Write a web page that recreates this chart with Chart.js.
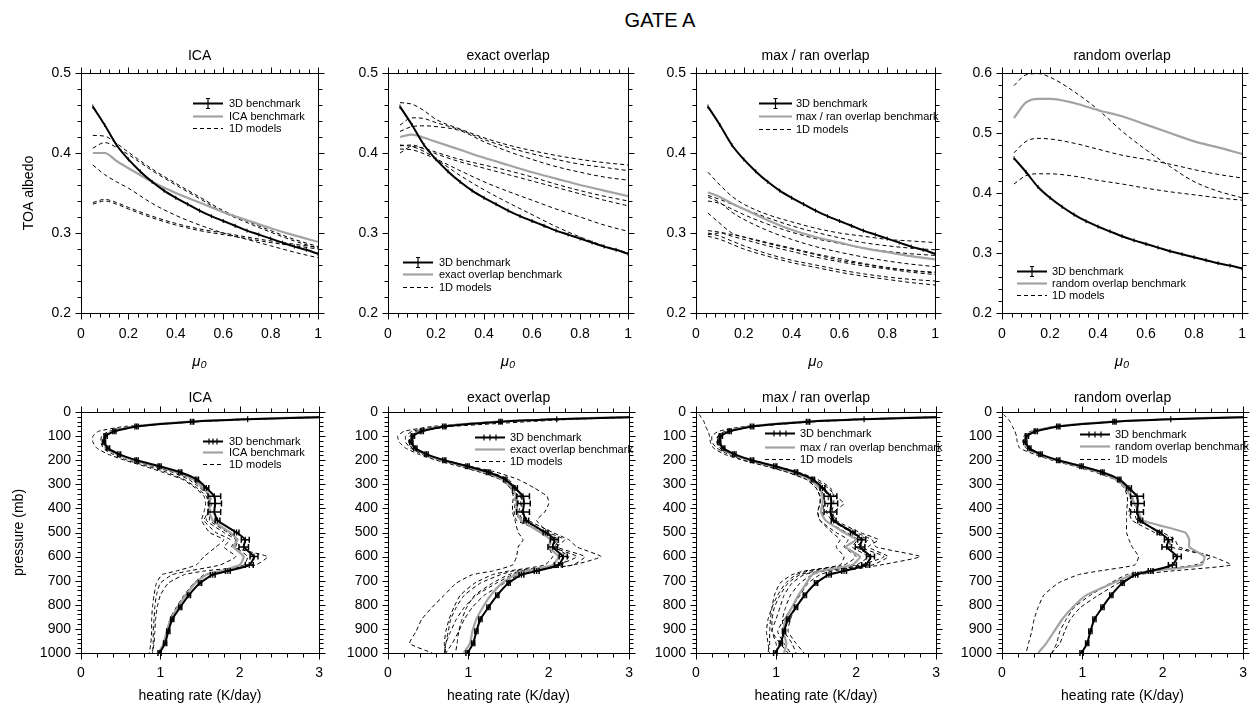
<!DOCTYPE html>
<html>
<head>
<meta charset="utf-8">
<script src="https://cdn.jsdelivr.net/npm/chart.js@4.4.1/dist/chart.umd.min.js"></script>
<style>
  body { margin: 0; background: #fff; }
  #page { position: relative; width: 1256px; height: 707px; overflow: hidden; font-family: "Liberation Sans", Arial, sans-serif; }
  #mainTitle { position: absolute; left: 560px; width: 200px; top: 9px; text-align: center; font-size: 20px; color: #000; }
  canvas { position: absolute; }
</style>
</head>
<body>
<div id="page">
  <div id="mainTitle">GATE A</div>
</div>
<script>
// ---- top row: TOA albedo vs mu0 ----
const mu0Bench = [0.05, 0.10, 0.15, 0.20, 0.25, 0.30, 0.35, 0.40, 0.45, 0.50, 0.55, 0.60, 0.65, 0.70, 0.75, 0.80, 0.85, 0.90, 0.95, 1.00];
const albedo3D = [0.458, 0.435, 0.410, 0.392, 0.377, 0.364, 0.353, 0.344, 0.336, 0.328, 0.321, 0.315, 0.309, 0.303, 0.298, 0.293, 0.288, 0.283, 0.279, 0.274];
const mu0 = [0.05, 0.10, 0.15, 0.20, 0.30, 0.40, 0.50, 0.60, 0.70, 0.80, 0.90, 1.00];

const icaAlbedoBench = [0.400, 0.400, 0.390, 0.381, 0.364, 0.350, 0.338, 0.326, 0.316, 0.306, 0.297, 0.289];
const icaAlbedo1D = [
  [0.422, 0.421, 0.412, 0.401, 0.380, 0.362, 0.345, 0.328, 0.315, 0.303, 0.292, 0.283],
  [0.406, 0.413, 0.407, 0.398, 0.378, 0.360, 0.343, 0.326, 0.313, 0.301, 0.290, 0.281],
  [0.385, 0.373, 0.364, 0.356, 0.337, 0.322, 0.310, 0.300, 0.292, 0.284, 0.276, 0.269],
  [0.338, 0.342, 0.338, 0.332, 0.321, 0.312, 0.305, 0.300, 0.295, 0.290, 0.286, 0.282],
  [0.336, 0.340, 0.336, 0.330, 0.319, 0.310, 0.303, 0.298, 0.293, 0.288, 0.284, 0.280]
];

const exactAlbedoBench = [0.420, 0.423, 0.419, 0.414, 0.404, 0.394, 0.385, 0.376, 0.368, 0.360, 0.353, 0.346];
const exactAlbedo1D = [
  [0.463, 0.461, 0.453, 0.442, 0.430, 0.419, 0.410, 0.403, 0.397, 0.392, 0.388, 0.385],
  [0.435, 0.444, 0.443, 0.438, 0.429, 0.417, 0.407, 0.399, 0.392, 0.386, 0.382, 0.378],
  [0.427, 0.433, 0.434, 0.433, 0.428, 0.414, 0.402, 0.392, 0.383, 0.376, 0.370, 0.366],
  [0.400, 0.408, 0.406, 0.401, 0.392, 0.385, 0.378, 0.370, 0.361, 0.353, 0.346, 0.340],
  [0.409, 0.410, 0.405, 0.399, 0.389, 0.381, 0.373, 0.365, 0.357, 0.349, 0.341, 0.334],
  [0.410, 0.408, 0.402, 0.393, 0.378, 0.364, 0.352, 0.341, 0.330, 0.320, 0.310, 0.302],
  [0.405, 0.404, 0.399, 0.392, 0.372, 0.354, 0.338, 0.323, 0.308, 0.295, 0.284, 0.275]
];

const maxranAlbedoBench = [0.351, 0.345, 0.337, 0.330, 0.316, 0.304, 0.295, 0.288, 0.281, 0.276, 0.271, 0.267];
const maxranAlbedo1D = [
  [0.376, 0.360, 0.346, 0.336, 0.323, 0.314, 0.306, 0.300, 0.296, 0.292, 0.290, 0.288],
  [0.347, 0.342, 0.336, 0.330, 0.319, 0.309, 0.301, 0.294, 0.288, 0.284, 0.281, 0.279],
  [0.340, 0.337, 0.330, 0.323, 0.311, 0.301, 0.293, 0.287, 0.281, 0.277, 0.274, 0.272],
  [0.345, 0.338, 0.326, 0.317, 0.303, 0.292, 0.283, 0.276, 0.270, 0.265, 0.261, 0.258],
  [0.325, 0.312, 0.300, 0.295, 0.287, 0.280, 0.273, 0.266, 0.261, 0.256, 0.253, 0.251],
  [0.303, 0.301, 0.298, 0.295, 0.288, 0.281, 0.274, 0.268, 0.262, 0.257, 0.253, 0.250],
  [0.298, 0.300, 0.296, 0.292, 0.284, 0.277, 0.270, 0.264, 0.259, 0.255, 0.251, 0.248],
  [0.300, 0.296, 0.290, 0.284, 0.274, 0.266, 0.260, 0.254, 0.249, 0.245, 0.242, 0.240],
  [0.296, 0.292, 0.286, 0.280, 0.271, 0.263, 0.257, 0.251, 0.246, 0.242, 0.238, 0.235]
];

const randomAlbedoBench = [0.525, 0.551, 0.557, 0.557, 0.550, 0.538, 0.528, 0.514, 0.500, 0.486, 0.476, 0.465];
const randomAlbedo1D = [
  [0.579, 0.597, 0.599, 0.593, 0.569, 0.539, 0.503, 0.472, 0.444, 0.419, 0.403, 0.392],
  [0.467, 0.486, 0.491, 0.490, 0.483, 0.473, 0.463, 0.456, 0.448, 0.439, 0.431, 0.425],
  [0.415, 0.429, 0.432, 0.432, 0.428, 0.421, 0.415, 0.408, 0.402, 0.397, 0.392, 0.388]
];

// ---- bottom row: heating rate profiles ----
const pressureLevels = [10, 20, 30, 40, 60, 80, 100, 125, 150, 175, 200, 225, 250, 280, 315, 350, 380, 415, 450, 500, 530, 560, 600, 635, 660, 675, 710, 760, 810, 860, 910, 960, 1000];
const heating3D = [5.0, 3.2, 2.1, 1.40, 0.70, 0.42, 0.31, 0.29, 0.34, 0.48, 0.70, 0.99, 1.25, 1.46, 1.58, 1.68, 1.69, 1.68, 1.72, 1.96, 2.07, 2.05, 2.18, 2.12, 1.85, 1.66, 1.50, 1.36, 1.25, 1.15, 1.10, 1.06, 0.99];
const heating3DErr = [0, 0, 0, 0.02, 0.02, 0.02, 0.02, 0.02, 0.02, 0.02, 0.02, 0.02, 0.02, 0.02, 0.03, 0.08, 0.08, 0.08, 0.03, 0.03, 0.05, 0.06, 0.05, 0.05, 0.03, 0.03, 0.02, 0.02, 0.02, 0.02, 0.02, 0.02, 0.02];

const icaHeatingBench = [4.9, 3.1, 2.05, 1.36, 0.68, 0.40, 0.30, 0.28, 0.33, 0.46, 0.67, 0.95, 1.21, 1.42, 1.54, 1.62, 1.62, 1.62, 1.66, 1.88, 1.97, 1.92, 2.05, 2.00, 1.75, 1.58, 1.44, 1.32, 1.22, 1.13, 1.08, 1.04, 0.98];
const icaHeating1D = [
  [5.0, 3.3, 2.2, 1.50, 0.55, 0.22, 0.15, 0.15, 0.20, 0.34, 0.55, 0.80, 1.03, 1.28, 1.44, 1.55, 1.57, 1.55, 1.52, 1.62, 1.80, 1.70, 1.55, 1.45, 1.20, 1.02, 0.95, 0.92, 0.90, 0.89, 0.89, 0.88, 0.86],
  [4.8, 3.0, 2.0, 1.35, 0.66, 0.40, 0.30, 0.28, 0.31, 0.44, 0.64, 0.90, 1.15, 1.36, 1.50, 1.62, 1.63, 1.60, 1.58, 1.80, 1.95, 1.90, 2.35, 2.20, 1.55, 1.30, 1.10, 1.00, 0.96, 0.94, 0.93, 0.92, 0.90],
  [4.9, 3.1, 2.1, 1.40, 0.64, 0.35, 0.26, 0.25, 0.28, 0.40, 0.58, 0.84, 1.08, 1.30, 1.46, 1.58, 1.60, 1.60, 1.55, 1.70, 1.88, 1.80, 1.95, 1.75, 1.35, 1.15, 1.00, 0.95, 0.93, 0.92, 0.91, 0.91, 0.90],
  [5.0, 3.2, 2.1, 1.42, 0.70, 0.40, 0.30, 0.28, 0.32, 0.45, 0.65, 0.92, 1.18, 1.40, 1.52, 1.63, 1.64, 1.63, 1.62, 1.85, 1.98, 1.95, 2.10, 2.05, 1.75, 1.55, 1.42, 1.30, 1.20, 1.12, 1.08, 1.05, 1.00]
];

const exactHeatingBench = [4.9, 3.1, 2.05, 1.36, 0.68, 0.40, 0.30, 0.28, 0.33, 0.46, 0.67, 0.95, 1.21, 1.42, 1.54, 1.60, 1.60, 1.60, 1.66, 1.90, 2.02, 2.00, 2.12, 2.05, 1.72, 1.58, 1.42, 1.28, 1.18, 1.10, 1.05, 1.02, 0.94];
const exactHeating1D = [
  [5.0, 3.2, 2.1, 1.45, 0.72, 0.42, 0.32, 0.30, 0.34, 0.48, 0.70, 1.00, 1.28, 1.50, 1.60, 1.66, 1.66, 1.66, 1.75, 2.05, 2.25, 2.35, 2.65, 2.30, 1.75, 1.62, 1.45, 1.20, 1.05, 0.95, 0.88, 0.80, 0.72],
  [5.0, 3.3, 2.3, 1.75, 0.80, 0.40, 0.28, 0.26, 0.30, 0.45, 0.70, 1.02, 1.35, 1.62, 1.82, 1.98, 2.00, 1.95, 1.85, 2.00, 2.20, 2.10, 2.45, 2.30, 1.70, 1.55, 1.35, 1.10, 0.95, 0.85, 0.78, 0.72, 0.70],
  [4.8, 3.0, 1.95, 1.30, 0.55, 0.20, 0.12, 0.14, 0.22, 0.38, 0.60, 0.88, 1.15, 1.40, 1.52, 1.56, 1.55, 1.55, 1.58, 1.62, 1.68, 1.62, 1.60, 1.55, 1.30, 1.05, 0.85, 0.70, 0.55, 0.42, 0.35, 0.27, 0.55],
  [4.9, 3.1, 2.0, 1.35, 0.62, 0.30, 0.22, 0.22, 0.28, 0.42, 0.62, 0.90, 1.16, 1.40, 1.52, 1.58, 1.58, 1.57, 1.60, 1.95, 2.10, 2.05, 2.35, 2.10, 1.55, 1.40, 1.15, 0.95, 0.85, 0.78, 0.75, 0.72, 0.70],
  [5.0, 3.2, 2.1, 1.42, 0.70, 0.40, 0.30, 0.28, 0.32, 0.46, 0.67, 0.96, 1.22, 1.45, 1.58, 1.65, 1.65, 1.63, 1.68, 1.98, 2.12, 2.08, 2.25, 2.15, 1.65, 1.50, 1.30, 1.08, 0.98, 0.92, 0.88, 0.86, 0.84],
  [4.9, 3.1, 2.05, 1.38, 0.66, 0.36, 0.27, 0.26, 0.30, 0.44, 0.65, 0.93, 1.20, 1.43, 1.56, 1.62, 1.62, 1.60, 1.64, 1.92, 2.05, 2.00, 2.05, 1.95, 1.50, 1.30, 1.08, 0.90, 0.82, 0.76, 0.72, 0.70, 0.72]
];

const maxranHeatingBench = [4.9, 3.1, 2.05, 1.36, 0.68, 0.40, 0.30, 0.28, 0.33, 0.46, 0.67, 0.95, 1.21, 1.42, 1.54, 1.58, 1.58, 1.56, 1.62, 1.85, 2.00, 1.87, 2.05, 1.95, 1.55, 1.45, 1.38, 1.28, 1.20, 1.12, 1.09, 1.13, 1.10];
const maxranHeating1D = [
  [0.04, 0.06, 0.08, 0.10, 0.12, 0.15, 0.17, 0.18, 0.22, 0.35, 0.58, 0.88, 1.15, 1.38, 1.50, 1.55, 1.55, 1.52, 1.55, 1.70, 1.80, 1.75, 1.85, 1.80, 1.35, 1.20, 1.05, 0.98, 0.95, 0.93, 0.92, 0.92, 0.90],
  [5.0, 3.2, 2.1, 1.42, 0.70, 0.40, 0.30, 0.28, 0.32, 0.46, 0.67, 0.96, 1.22, 1.45, 1.58, 1.65, 1.65, 1.63, 1.70, 2.00, 2.20, 2.25, 2.80, 2.30, 1.85, 1.65, 1.50, 1.35, 1.25, 1.18, 1.15, 1.25, 1.35],
  [4.9, 3.1, 2.05, 1.38, 0.66, 0.36, 0.27, 0.26, 0.30, 0.44, 0.65, 0.93, 1.20, 1.48, 1.65, 1.75, 1.85, 1.72, 1.70, 1.95, 2.15, 2.05, 2.35, 2.05, 1.55, 1.35, 1.20, 1.10, 1.05, 1.00, 0.95, 1.05, 1.15],
  [4.8, 3.0, 1.95, 1.32, 0.60, 0.28, 0.20, 0.20, 0.26, 0.40, 0.60, 0.88, 1.14, 1.38, 1.50, 1.55, 1.55, 1.52, 1.55, 1.75, 1.90, 1.85, 2.00, 1.85, 1.40, 1.25, 1.12, 1.02, 0.95, 0.90, 0.88, 0.90, 0.92],
  [5.0, 3.2, 2.1, 1.42, 0.70, 0.38, 0.28, 0.27, 0.31, 0.45, 0.66, 0.95, 1.22, 1.46, 1.60, 1.68, 1.70, 1.68, 1.70, 1.95, 2.10, 2.00, 2.20, 2.10, 1.60, 1.45, 1.30, 1.18, 1.12, 1.08, 1.10, 1.20, 1.25],
  [4.9, 3.1, 2.05, 1.40, 0.68, 0.38, 0.28, 0.27, 0.31, 0.45, 0.66, 0.94, 1.20, 1.43, 1.55, 1.60, 1.60, 1.58, 1.62, 1.88, 2.02, 1.95, 2.15, 2.00, 1.50, 1.30, 1.15, 1.05, 0.98, 0.95, 0.95, 1.00, 1.02],
  [5.0, 3.3, 2.2, 1.50, 0.75, 0.42, 0.32, 0.30, 0.34, 0.48, 0.70, 1.00, 1.28, 1.52, 1.68, 1.72, 1.72, 1.70, 1.75, 2.05, 2.28, 2.15, 2.40, 2.20, 1.70, 1.55, 1.40, 1.30, 1.20, 1.10, 1.02, 1.10, 1.18]
];

const randomHeatingBench = [4.9, 3.1, 2.05, 1.36, 0.68, 0.40, 0.30, 0.28, 0.33, 0.46, 0.67, 0.95, 1.21, 1.42, 1.54, 1.60, 1.65, 1.70, 1.75, 2.28, 2.33, 2.33, 2.52, 2.48, 1.85, 1.62, 1.38, 1.05, 0.88, 0.75, 0.65, 0.55, 0.45];
const randomHeating1D = [
  [5.0, 3.2, 2.1, 1.42, 0.70, 0.40, 0.30, 0.28, 0.32, 0.46, 0.67, 0.96, 1.22, 1.45, 1.58, 1.62, 1.65, 1.65, 1.68, 2.00, 2.15, 2.20, 2.62, 2.85, 2.10, 1.70, 1.45, 1.20, 0.98, 0.85, 0.78, 0.72, 0.62],
  [4.9, 3.1, 2.05, 1.38, 0.66, 0.36, 0.27, 0.26, 0.30, 0.44, 0.65, 0.93, 1.20, 1.43, 1.56, 1.60, 1.60, 1.58, 1.62, 1.90, 2.08, 2.10, 2.60, 2.40, 1.80, 1.55, 1.35, 1.10, 0.90, 0.80, 0.72, 0.68, 0.62],
  [0.02, 0.05, 0.08, 0.10, 0.13, 0.16, 0.18, 0.19, 0.22, 0.40, 0.62, 0.90, 1.16, 1.40, 1.52, 1.56, 1.56, 1.55, 1.55, 1.55, 1.58, 1.62, 1.70, 1.65, 1.20, 0.95, 0.70, 0.52, 0.45, 0.40, 0.37, 0.33, 0.30]
];

const GRAY = "#a3a3a3";
const FONT = '"Liberation Sans", Arial, Helvetica, sans-serif';
Chart.defaults.font.family = FONT;
Chart.defaults.color = "#000";

const toPoints = (xs, ys) => xs.map((x, i) => ({ x: x, y: ys[i] }));

// Frame around the plot area plus major/minor ticks on all four sides
const frameTicks = {
  id: "frameTicks",
  afterDraw(chart, args, opts) {
    const { ctx, chartArea: a } = chart;
    const sx = chart.scales.x, sy = chart.scales.y;
    const L = Math.round(a.left) + 0.5, R = Math.round(a.right) + 0.5;
    const T = Math.round(a.top) + 0.5, B = Math.round(a.bottom) + 0.5;
    ctx.save();
    ctx.strokeStyle = "#000";
    ctx.lineWidth = 1;
    ctx.strokeRect(L, T, R - L, B - T);
    ctx.beginPath();
    let ratio = Math.round(opts.xMajor / opts.xMinor);
    let n = Math.round((sx.max - sx.min) / opts.xMinor);
    for (let i = 0; i <= n; i++) {
      const px = Math.round(sx.getPixelForValue(sx.min + i * opts.xMinor)) + 0.5;
      const len = i % ratio === 0 ? 6 : 4;
      ctx.moveTo(px, B); ctx.lineTo(px, B + len);
      ctx.moveTo(px, T); ctx.lineTo(px, T - len);
    }
    ratio = Math.round(opts.yMajor / opts.yMinor);
    n = Math.round((sy.max - sy.min) / opts.yMinor);
    for (let i = 0; i <= n; i++) {
      const py = Math.round(sy.getPixelForValue(sy.min + i * opts.yMinor)) + 0.5;
      const len = i % ratio === 0 ? 6 : 4;
      ctx.moveTo(L, py); ctx.lineTo(L - len, py);
      ctx.moveTo(R, py); ctx.lineTo(R + len, py);
    }
    ctx.stroke();
    ctx.restore();
  }
};

// Horizontal error bars on the 3D benchmark profile
const errorBars = {
  id: "errorBars",
  afterDatasetsDraw(chart) {
    const { ctx, chartArea: a } = chart;
    const sx = chart.scales.x, sy = chart.scales.y;
    chart.data.datasets.forEach((ds) => {
      if (!ds.errorX) return;
      ctx.save();
      ctx.strokeStyle = "#000";
      ctx.lineWidth = 1.5;
      ds.data.forEach((p, j) => {
        const e = ds.errorX[j];
        if (!e || p.x > sx.max) return;
        const py = sy.getPixelForValue(p.y);
        if (py < a.top || py > a.bottom) return;
        const x0 = sx.getPixelForValue(p.x - e), x1 = sx.getPixelForValue(p.x + e);
        ctx.beginPath();
        ctx.moveTo(x0, py); ctx.lineTo(x1, py);
        ctx.moveTo(x0, py - 3); ctx.lineTo(x0, py + 3);
        ctx.moveTo(x1, py - 3); ctx.lineTo(x1, py + 3);
        ctx.stroke();
      });
      ctx.restore();
    });
  }
};

// Legend drawn inside the plot area
const boxLegend = {
  id: "boxLegend",
  afterDraw(chart, args, opts) {
    const { ctx, chartArea: a } = chart;
    const x0 = a.left + opts.sx, x1 = a.left + opts.ex, tx = a.left + opts.tx;
    ctx.save();
    ctx.font = "11px " + FONT;
    ctx.fillStyle = "#000";
    ctx.textBaseline = "middle";
    const labels = ["3D benchmark", opts.benchLabel, "1D models"];
    labels.forEach((label, i) => {
      const y = Math.round(a.top + opts.rows[i]) + 0.5;
      ctx.beginPath();
      ctx.setLineDash(i === 2 ? [4, 3] : []);
      ctx.strokeStyle = i === 1 ? GRAY : "#000";
      ctx.lineWidth = i === 0 ? 2 : i === 1 ? 2.2 : 1;
      ctx.moveTo(x0, y); ctx.lineTo(x1, y);
      ctx.stroke();
      if (i === 0) {
        ctx.setLineDash([]);
        ctx.lineWidth = 1.2;
        ctx.beginPath();
        if (opts.errStyle === "vertical") {
          const m = (x0 + x1) / 2;
          ctx.moveTo(m, y - 5); ctx.lineTo(m, y + 5);
          ctx.moveTo(m - 2, y - 5); ctx.lineTo(m + 2, y - 5);
          ctx.moveTo(m - 2, y + 5); ctx.lineTo(m + 2, y + 5);
        } else {
          [0.3, 0.5, 0.7].forEach((f) => {
            const m = x0 + (x1 - x0) * f;
            ctx.moveTo(m, y - 3); ctx.lineTo(m, y + 3);
          });
        }
        ctx.stroke();
      }
      ctx.fillText(label, tx, y);
    });
    ctx.restore();
  }
};

function benchDataset(points, width) {
  return { data: points, showLine: true, borderColor: GRAY, borderWidth: width, pointRadius: 0 };
}
function modelDataset(points) {
  return { data: points, showLine: true, borderColor: "#000", borderWidth: 1, borderDash: [4, 3], pointRadius: 0 };
}

function topDatasets(bench, models) {
  const sets = [
    { data: toPoints(mu0Bench, albedo3D), showLine: true, borderColor: "#000", borderWidth: 2,
      pointStyle: "line", rotation: 90, pointRadius: 2, pointBorderWidth: 1, pointBorderColor: "#000" },
    benchDataset(toPoints(mu0, bench), 2.2)
  ];
  models.forEach((m) => sets.push(modelDataset(toPoints(mu0, m))));
  sets.forEach((s) => { s.cubicInterpolationMode = "monotone"; });
  return sets;
}

function bottomDatasets(bench, models) {
  const sets = [
    { data: toPoints(heating3D, pressureLevels), errorX: heating3DErr, showLine: true, borderColor: "#000", borderWidth: 2,
      pointStyle: "line", rotation: 90, pointRadius: 3, pointBorderWidth: 1.2, pointBorderColor: "#000" },
    benchDataset(toPoints(bench, pressureLevels), 2.2)
  ];
  models.forEach((m) => sets.push(modelDataset(toPoints(m, pressureLevels))));
  sets.forEach((s) => { s.tension = 0.15; });
  return sets;
}

function makePanel(p) {
  const L = 80, R = 15;
  const canvas = document.createElement("canvas");
  canvas.width = L + p.plotW + R;
  canvas.height = p.T + p.plotH + p.B;
  canvas.style.left = (p.left - L) + "px";
  canvas.style.top = (p.top - p.T) + "px";
  document.getElementById("page").appendChild(canvas);

  const label = (v) => String(Math.round(v * 100) / 100);

  new Chart(canvas, {
    type: "scatter",
    data: { datasets: p.datasets },
    options: {
      responsive: false,
      animation: false,
      events: [],
      layout: { padding: { left: 0, right: R, top: 0, bottom: 0 } },
      plugins: {
        legend: { display: false },
        tooltip: { enabled: false },
        frameTicks: { xMajor: p.xStep, xMinor: p.xMinor, yMajor: p.yStep, yMinor: p.yMinor },
        boxLegend: p.legend
      },
      scales: {
        x: {
          type: "linear", position: "bottom", min: p.xMin, max: p.xMax,
          grid: { display: false, drawTicks: false }, border: { display: false },
          ticks: { stepSize: p.xStep, padding: p.xPad, maxRotation: 0, autoSkip: false, font: { size: 14 }, callback: label },
          title: { display: true, text: p.xTitle, font: p.xTitleFont, padding: { top: 0, bottom: 2 } },
          afterFit: (s) => { s.height = p.B; }
        },
        xTop: {
          type: "linear", position: "top",
          grid: { display: false, drawTicks: false }, border: { display: false },
          ticks: { display: false },
          title: { display: true, text: p.title, font: { size: 14 }, padding: { top: p.titlePad, bottom: 0 } },
          afterFit: (s) => { s.height = p.T; }
        },
        y: {
          type: "linear", position: "left", min: p.yMin, max: p.yMax, reverse: !!p.reverse,
          grid: { display: false, drawTicks: false }, border: { display: false },
          ticks: { stepSize: p.yStep, padding: 10, autoSkip: false, font: { size: 14 }, callback: label },
          title: { display: !!p.yTitle, text: p.yTitle || "", font: { size: 14 }, padding: { top: p.yTitlePad || 0, bottom: 0 } },
          afterFit: (s) => { s.width = L; }
        }
      }
    },
    plugins: [frameTicks, errorBars, boxLegend]
  });
}

document.addEventListener("DOMContentLoaded", () => {
  const lefts = [81, 388, 696, 1002];
  const widths = [239, 242, 241, 242];
  const titles = ["ICA", "exact overlap", "max / ran overlap", "random overlap"];
  const benchLabels = ["ICA benchmark", "exact overlap benchmark", "max / ran overlap benchmark", "random overlap benchmark"];
  const topBench = [icaAlbedoBench, exactAlbedoBench, maxranAlbedoBench, randomAlbedoBench];
  const topModels = [icaAlbedo1D, exactAlbedo1D, maxranAlbedo1D, randomAlbedo1D];
  const botBench = [icaHeatingBench, exactHeatingBench, maxranHeatingBench, randomHeatingBench];
  const botModels = [icaHeating1D, exactHeating1D, maxranHeating1D, randomHeating1D];

  const topLegends = [
    { sx: 112, ex: 142, tx: 148, rows: [30, 43, 55] },
    { sx: 15, ex: 45, tx: 51, rows: [189, 201, 214] },
    { sx: 63, ex: 96, tx: 100, rows: [30, 43, 56] },
    { sx: 15, ex: 45, tx: 50, rows: [198, 210, 222] }
  ];
  const botLegends = [
    { sx: 122, ex: 142, tx: 148, rows: [29, 40, 52] },
    { sx: 87, ex: 117, tx: 122, rows: [25, 37, 49] },
    { sx: 69, ex: 99, tx: 104, rows: [21, 35, 47] },
    { sx: 78, ex: 108, tx: 113, rows: [22, 34, 47] }
  ];

  for (let i = 0; i < 4; i++) {
    makePanel({
      left: lefts[i], top: 73, plotW: widths[i], plotH: 240, T: 40, B: 60,
      title: titles[i], titlePad: 15,
      xMin: 0, xMax: 1, xStep: 0.2, xMinor: 0.04, xPad: 13,
      yMin: 0.2, yMax: i === 3 ? 0.6 : 0.5, yStep: 0.1, yMinor: 0.02,
      xTitle: "\u03bc\u2080", xTitleFont: { size: 15, style: "italic" },
      yTitle: i === 0 ? "TOA albedo" : null, yTitlePad: 20,
      datasets: topDatasets(topBench[i], topModels[i]),
      legend: Object.assign({ benchLabel: benchLabels[i], errStyle: "vertical" }, topLegends[i])
    });
    makePanel({
      left: lefts[i], top: 412, plotW: widths[i], plotH: 241, T: 40, B: 54,
      title: titles[i], titlePad: 18,
      xMin: 0, xMax: 3, xStep: 1, xMinor: 0.2, xPad: 12,
      yMin: 0, yMax: 1000, yStep: 100, yMinor: 20, reverse: true,
      xTitle: "heating rate (K/day)", xTitleFont: { size: 14 },
      yTitle: i === 0 ? "pressure (mb)" : null, yTitlePad: 10,
      datasets: bottomDatasets(botBench[i], botModels[i]),
      legend: Object.assign({ benchLabel: benchLabels[i], errStyle: "ticks" }, botLegends[i])
    });
  }
});
</script>
</body>
</html>
